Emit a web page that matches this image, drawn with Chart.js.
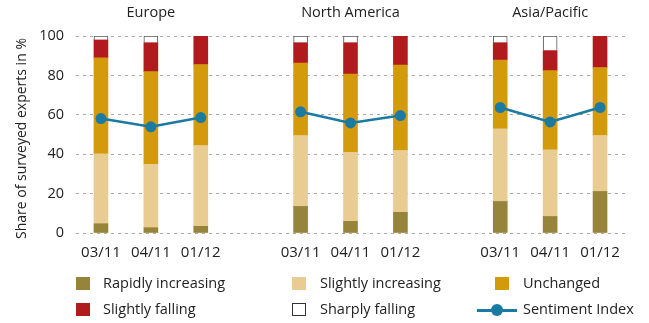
<!DOCTYPE html>
<html>
<head>
<meta charset="utf-8">
<script src="https://cdn.jsdelivr.net/npm/chart.js@4/dist/chart.umd.min.js"></script>
<style>
  html, body { margin: 0; padding: 0; background: #fff; }
  #wrap { position: relative; width: 649px; height: 323px; font-family: "Open Sans", sans-serif; color: #222; }
  #c { position: absolute; left: 0; top: 0; }
  .lg { position: absolute; font-size: 14.5px; line-height: 18px; white-space: nowrap; }
  .box { position: absolute; width: 14px; height: 13px; box-sizing: border-box; }
</style>
</head>
<body>
<div id="wrap">
  <canvas id="c" width="649" height="323"></canvas>
</div>
<script>
// ---- data ----
const categories = ['03/11', '04/11', '01/12', '', '03/11', '04/11', '01/12', '', '03/11', '04/11', '01/12'];
const regions = ['Europe', 'North America', 'Asia/Pacific'];
const regionCenterIndex = [1, 5, 9];
const yTicks = [0, 20, 40, 60, 80, 100];
const yTitle = 'Share of surveyed experts in %';

const rapidlyIncreasing  = [4.7, 2.7, 3.4, null, 13.5, 5.9, 10.5, null, 16.0, 8.4, 21.1];
const slightlyIncreasing = [35.5, 32.1, 41.0, null, 36.0, 35.0, 31.4, null, 36.9, 33.8, 28.4];
const unchanged          = [48.7, 47.1, 41.1, null, 36.8, 39.8, 43.4, null, 34.9, 40.2, 34.5];
const slightlyFalling    = [9.1, 14.7, 14.5, null, 10.3, 15.9, 14.7, null, 8.8, 10.2, 16.0];
const sharplyFalling     = [2.0, 3.4, null, null, 3.4, 3.4, null, null, 3.4, 7.4, null];
const sentimentIndex     = [58.1, 53.9, 58.6, null, 61.5, 55.9, 59.6, null, 63.7, 56.4, 63.7];

const seriesNames = ['Rapidly increasing', 'Slightly increasing', 'Unchanged', 'Slightly falling', 'Sharply falling', 'Sentiment Index'];
const seriesColors = ['#96843b', '#e9cc92', '#d39b0b', '#b21b1e', '#ffffff', '#1a7aa2'];

const FONT = '"Open Sans", sans-serif';
const TEXT = '#222222';

function barSet(i, data, extra) {
  return Object.assign({
    type: 'bar', label: seriesNames[i], data: data,
    backgroundColor: seriesColors[i], borderWidth: 0,
    barThickness: 14, stack: 'bars', order: 1
  }, extra || {});
}

const textPlugin = {
  id: 'textPlugin',
  afterDraw(chart) {
    const ctx = chart.ctx, x = chart.scales.x, a = chart.chartArea;
    ctx.save();
    ctx.fillStyle = TEXT;
    ctx.textAlign = 'center';
    ctx.textBaseline = 'middle';
    ctx.font = '14.5px ' + FONT;
    regions.forEach((r, k) => ctx.fillText(r, x.getPixelForValue(regionCenterIndex[k]), 13));
    ctx.translate(22, (a.top + a.bottom) / 2 + 4);
    ctx.rotate(-Math.PI / 2);
    ctx.font = '14px ' + FONT;
    ctx.fillText(yTitle, 0, 0);
    ctx.restore();
  }
};

new Chart(document.getElementById('c'), {
  data: {
    labels: categories,
    datasets: [
      barSet(0, rapidlyIncreasing),
      barSet(1, slightlyIncreasing),
      barSet(2, unchanged),
      barSet(3, slightlyFalling),
      barSet(4, sharplyFalling, { borderWidth: 1, borderColor: '#555555' }),
      {
        type: 'line', label: seriesNames[5], data: sentimentIndex,
        borderColor: seriesColors[5], backgroundColor: seriesColors[5],
        borderWidth: 2.5, pointRadius: 5.5, pointHoverRadius: 5.5,
        pointBorderWidth: 0, spanGaps: false, stack: 'line', order: 0, tension: 0
      }
    ]
  },
  options: {
    responsive: false,
    animation: false,
    events: [],
    layout: { padding: { left: 0, right: 24, top: 36, bottom: 0 } },
    plugins: { legend: { display: false }, tooltip: { enabled: false } },
    scales: {
      x: {
        stacked: true,
        grid: { display: false, drawTicks: false },
        border: { display: false },
        ticks: { color: TEXT, font: { family: FONT, size: 15 }, padding: 11, maxRotation: 0, autoSkip: false },
        afterFit(s) { s.height = 90; }
      },
      y: {
        stacked: true,
        min: 0, max: 100,
        afterBuildTicks(s) { s.ticks = yTicks.map(v => ({ value: v })); },
        grid: { color: '#a8a8a8', lineWidth: 1, drawTicks: false },
        border: { display: false, dash: [3, 4] },
        ticks: { color: TEXT, font: { family: FONT, size: 14.5 }, padding: 12 },
        afterFit(s) { s.width = 76; }
      }
    }
  },
  plugins: [textPlugin]
});

// ---- HTML legend ----
const wrap = document.getElementById('wrap');
const legendPos = [
  { bx: 76, tx: 103, y: 284 }, { bx: 292, tx: 320, y: 284 }, { bx: 495, tx: 523, y: 284 },
  { bx: 76, tx: 103, y: 310 }, { bx: 292, tx: 320, y: 310 }, { bx: 477, tx: 523, y: 310 }
];
seriesNames.forEach((name, i) => {
  const p = legendPos[i];
  if (i === 5) {
    const line = document.createElement('div');
    line.style.cssText = `position:absolute;left:${p.bx}px;top:${p.y - 1.5}px;width:40px;height:3px;background:${seriesColors[i]};`;
    const dot = document.createElement('div');
    dot.style.cssText = `position:absolute;left:${p.bx + 14}px;top:${p.y - 6}px;width:12px;height:12px;border-radius:50%;background:${seriesColors[i]};`;
    wrap.appendChild(line); wrap.appendChild(dot);
  } else {
    const b = document.createElement('div');
    b.className = 'box';
    b.style.left = p.bx + 'px'; b.style.top = (p.y - 7) + 'px';
    b.style.background = seriesColors[i];
    if (i === 4) b.style.border = '1.2px solid #333';
    wrap.appendChild(b);
  }
  const t = document.createElement('div');
  t.className = 'lg';
  t.textContent = name;
  t.style.left = p.tx + 'px'; t.style.top = (p.y - 10) + 'px';
  wrap.appendChild(t);
});
</script>
</body>
</html>
